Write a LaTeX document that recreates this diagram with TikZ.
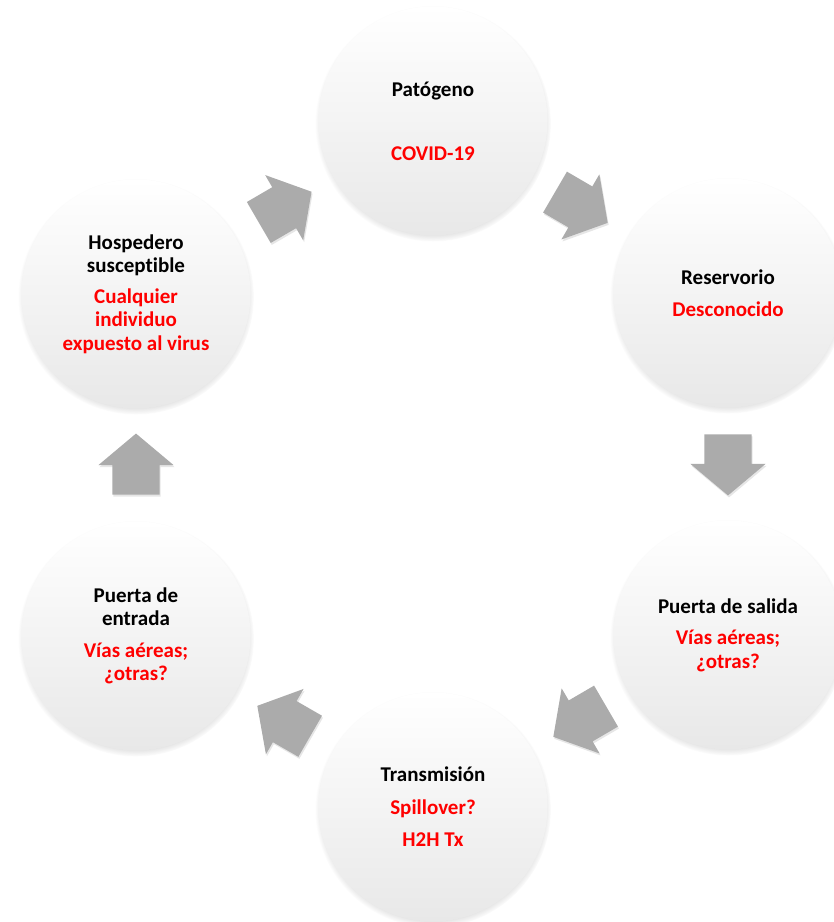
\documentclass[tikz,border=0pt]{standalone}
\usepackage{fontspec}
\setmainfont{Carlito}[Ligatures=NoCommon]
\usetikzlibrary{shapes,shapes.arrows,shadows,calc,positioning}
\newcommand{\rojo}[1]{\textcolor{red}{#1}}

\begin{document}
\begin{tikzpicture}[x=1pt,y=1pt,
  etapa/.style={circle,minimum size=229pt,inner sep=0pt,align=center,
    top color=white,bottom color=black!9,
    circular drop shadow={shadow xshift=0pt,shadow yshift=-2.5pt,shadow scale=1.03,opacity=0.5},
    font=\fontsize{21}{23.5}\selectfont\bfseries},
  flecha/.style={single arrow,sloped,allow upside down,pos=0.42,inner xsep=0pt,inner ysep=23.5pt,
    minimum height=61pt,single arrow head extend=14pt,
    single arrow head indent=0pt,single arrow tip angle=100,
    fill=black!33,
    drop shadow={shadow xshift=1pt,shadow yshift=-2pt,opacity=0.2}}]
\useasboundingbox (0,0) rectangle (834,922);

\node[etapa] (pat) at (433,801) {Patógeno\\[40.5pt]\rojo{COVID-19}};
\node[etapa] (res) at (728,629) {Reservorio\\[8pt]\rojo{Desconocido}};
\node[etapa] (sal) at (728,287) {Puerta de salida\\[8pt]\rojo{Vías aéreas;}\\\rojo{¿otras?}};
\node[etapa] (tra) at (433,115) {Transmisión\\[9pt]\rojo{Spillover?}\\[9pt]\rojo{H2H Tx}};
\node[etapa] (ent) at (136,286) {Puerta de\\entrada\\[8pt]\rojo{Vías aéreas;}\\\rojo{¿otras?}};
\node[etapa] (hos) at (136,628) {Hospedero\\susceptible\\[7pt]\rojo{Cualquier}\\\rojo{individuo}\\\rojo{expuesto al virus}};

% flechas del ciclo
\path (pat) -- node[flecha] {} (res);
\path (res) -- node[flecha] {} (sal);
\path (sal) -- node[flecha] {} (tra);
\path (tra) -- node[flecha] {} (ent);
\path (ent) -- node[flecha] {} (hos);
\path (hos) -- node[flecha] {} (pat);
\end{tikzpicture}
\end{document}
